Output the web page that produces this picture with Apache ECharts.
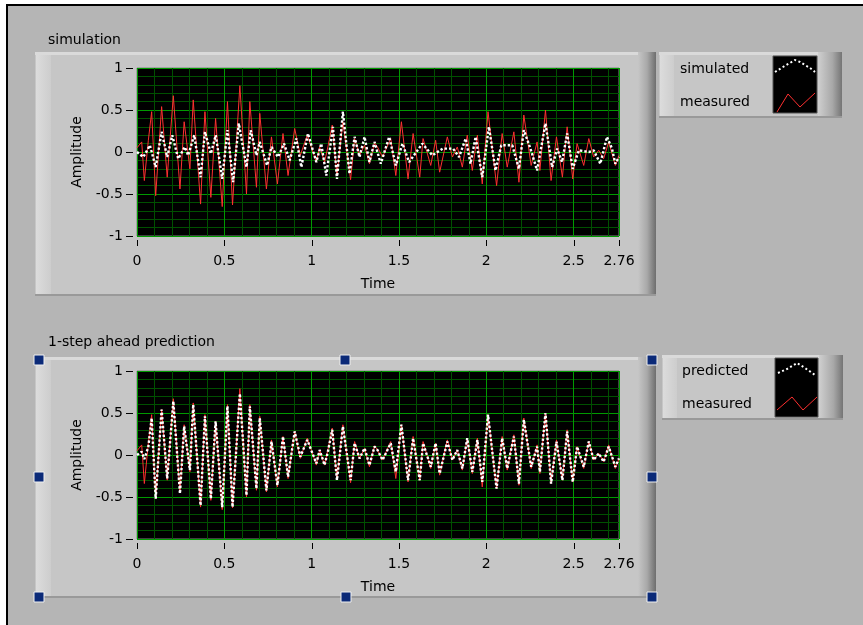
<!DOCTYPE html>
<html><head><meta charset="utf-8">
<script src="https://cdn.jsdelivr.net/npm/echarts@6/dist/echarts.min.js"></script>
<style>html,body{margin:0;padding:0;background:#fff}#c{width:863px;height:625px}</style>
</head><body><div id="c"></div>
<script>
// ---- data (time in s, amplitude) ----
const xMin = 0, xMax = 2.76;
const yMin = -1, yMax = 1;
const xTickLabels = ['0', '0.5', '1', '1.5', '2', '2.5', '2.76'];
const yTickLabels = ['-1', '-0.5', '0', '0.5', '1'];
const panelTitles = ['simulation', '1-step ahead prediction'];
const legendTop = ['simulated', 'measured'];
const legendBottom = ['predicted', 'measured'];

const measuredT = [0, 0.027, 0.042, 0.065, 0.084, 0.107, 0.141, 0.173, 0.208, 0.246,
  0.270, 0.303, 0.322, 0.364, 0.389, 0.423, 0.450, 0.488, 0.518, 0.547,
  0.589, 0.627, 0.646, 0.684, 0.703, 0.741, 0.770, 0.804, 0.836, 0.865,
  0.903, 0.935, 0.975, 1.027, 1.046, 1.074, 1.093, 1.118, 1.145, 1.179,
  1.223, 1.246, 1.274, 1.303, 1.331, 1.360, 1.377, 1.406, 1.453, 1.482,
  1.514, 1.552, 1.581, 1.619, 1.638, 1.682, 1.710, 1.733, 1.777, 1.806,
  1.834, 1.863, 1.891, 1.920, 1.949, 1.977, 2.010, 2.059, 2.091, 2.120,
  2.158, 2.187, 2.215, 2.257, 2.291, 2.307, 2.339, 2.371, 2.402, 2.436,
  2.463, 2.495, 2.520, 2.558, 2.587, 2.615, 2.644, 2.672, 2.701, 2.739, 2.760];
const measuredV = [0.05, 0.12, -0.34, 0.14, 0.48, -0.52, 0.54, -0.30, 0.67, -0.44,
  0.36, -0.20, 0.62, -0.62, 0.48, -0.54, 0.40, -0.65, 0.60, -0.63,
  0.79, -0.50, 0.60, -0.42, 0.46, -0.44, 0.18, -0.38, 0.22, -0.28,
  0.28, -0.04, 0.20, -0.12, 0.06, -0.12, 0.06, 0.32, -0.28, 0.36,
  -0.33, 0.16, -0.04, 0.08, -0.14, 0.11, 0.06, -0.06, 0.16, -0.28,
  0.36, -0.32, 0.22, -0.30, 0.16, -0.16, 0.14, -0.24, 0.18, -0.06,
  0.06, -0.18, 0.20, -0.22, 0.20, -0.38, 0.48, -0.40, 0.22, -0.18,
  0.24, -0.36, 0.44, -0.16, 0.12, -0.22, 0.50, -0.34, 0.18, -0.30,
  0.30, -0.32, 0.10, -0.16, 0.16, -0.06, 0.02, -0.08, 0.12, -0.16, -0.04];
const predictedV = [0.00, 0.04, -0.05, 0.10, 0.44, -0.52, 0.54, -0.28, 0.64, -0.46,
  0.34, -0.18, 0.60, -0.60, 0.46, -0.52, 0.40, -0.62, 0.58, -0.62,
  0.73, -0.48, 0.58, -0.40, 0.44, -0.42, 0.16, -0.36, 0.22, -0.26,
  0.28, -0.02, 0.18, -0.10, 0.06, -0.12, 0.04, 0.30, -0.30, 0.34,
  -0.30, 0.14, -0.04, 0.08, -0.12, 0.10, 0.06, -0.06, 0.14, -0.20,
  0.36, -0.30, 0.20, -0.30, 0.14, -0.14, 0.14, -0.22, 0.16, -0.06,
  0.06, -0.16, 0.20, -0.20, 0.18, -0.32, 0.48, -0.40, 0.20, -0.16,
  0.22, -0.34, 0.42, -0.14, 0.10, -0.20, 0.50, -0.34, 0.16, -0.30,
  0.28, -0.32, 0.10, -0.14, 0.16, -0.06, 0.02, -0.08, 0.10, -0.14, -0.04];
const simulatedT = [0, 0.036, 0.074, 0.107, 0.141, 0.173, 0.202, 0.236, 0.274, 0.293,
  0.328, 0.364, 0.389, 0.423, 0.451, 0.488, 0.518, 0.550, 0.583, 0.627,
  0.651, 0.684, 0.703, 0.745, 0.770, 0.808, 0.842, 0.874, 0.912, 0.941,
  0.979, 1.027, 1.055, 1.084, 1.122, 1.145, 1.179, 1.217, 1.246, 1.274,
  1.303, 1.331, 1.360, 1.396, 1.444, 1.482, 1.520, 1.558, 1.634, 1.691,
  1.750, 1.810, 1.844, 1.882, 1.910, 1.939, 1.977, 2.015, 2.053, 2.086,
  2.149, 2.187, 2.215, 2.253, 2.291, 2.339, 2.377, 2.406, 2.434, 2.463,
  2.495, 2.530, 2.587, 2.615, 2.653, 2.691, 2.720, 2.739, 2.760];
const simulatedV = [0.00, -0.06, 0.08, -0.18, 0.24, -0.06, 0.20, -0.08, 0.06, -0.04,
  0.20, -0.30, 0.24, -0.02, 0.20, -0.32, 0.26, -0.36, 0.34, -0.18,
  0.26, -0.04, 0.12, -0.16, 0.06, -0.06, 0.10, -0.10, 0.16, -0.18,
  0.22, -0.12, 0.10, -0.28, 0.30, -0.32, 0.48, -0.26, 0.18, -0.06,
  0.18, -0.12, 0.12, -0.14, 0.18, -0.16, 0.10, -0.12, 0.10, -0.04,
  0.04, 0.04, -0.06, 0.16, -0.14, 0.18, -0.30, 0.30, -0.22, 0.08,
  0.08, -0.20, 0.26, 0.04, -0.22, 0.34, -0.18, 0.04, -0.12, 0.22,
  -0.20, 0.02, 0.00, 0.02, -0.14, 0.18, 0.04, -0.14, -0.06];

// ---- styling ----
const FONT = 'DejaVu Sans';
const BG = '#b5b5b5';
const FACE = '#c6c6c6';
const RED = '#ff3030';
const pairs = (t, v) => t.map((x, i) => [x, v[i]]);

const chart = echarts.init(document.getElementById('c'), null, {renderer: 'canvas'});

const hiddenLine = {show: true, lineStyle: {color: 'rgba(0,0,0,0)', width: 0}};

function axesX(g) {
  return [
    {type: 'value', gridIndex: g, position: 'bottom', min: xMin, max: xMax, interval: 0.1,
     axisLine: {show: false}, axisTick: {show: false}, axisLabel: {show: false},
     splitLine: {show: true, lineStyle: {color: '#005000', width: 1}}},
    {type: 'value', gridIndex: g, position: 'bottom', min: xMin, max: xMax, interval: 0.5, offset: 4,
     axisLine: hiddenLine,
     axisTick: {show: false},
     axisLabel: {color: '#000', fontFamily: FONT, fontSize: 14, margin: 14,
       showMaxLabel: true, showMinLabel: true, hideOverlap: false,
       formatter: v => xTickLabels.find(s => Math.abs(parseFloat(s) - v) < 1e-6) || ''},
     splitLine: {show: true, lineStyle: {color: '#009a00', width: 1}},
     name: 'Time', nameLocation: 'middle', nameGap: 37,
     nameTextStyle: {color: '#000', fontFamily: FONT, fontSize: 14}}
  ];
}
function axesY(g) {
  return [
    {type: 'value', gridIndex: g, position: 'left', min: yMin, max: yMax, interval: 0.1,
     axisLine: {show: false}, axisTick: {show: false}, axisLabel: {show: false},
     splitLine: {show: true, lineStyle: {color: '#005000', width: 1}}},
    {type: 'value', gridIndex: g, position: 'left', min: yMin, max: yMax, interval: 0.5, offset: 4,
     axisLine: hiddenLine,
     axisTick: {show: false},
     axisLabel: {color: '#000', fontFamily: FONT, fontSize: 14, margin: 10,
       formatter: v => yTickLabels.find(s => Math.abs(parseFloat(s) - v) < 1e-6) || ''},
     splitLine: {show: true, lineStyle: {color: '#009a00', width: 1}},
     name: 'Amplitude', nameLocation: 'middle', nameGap: 48,
     nameTextStyle: {color: '#000', fontFamily: FONT, fontSize: 14}}
  ];
}

function frame(x, y, w, h, z) {
  return [
    {type: 'rect', z: z, shape: {x: x, y: y, width: w, height: h}, style: {fill: FACE}},
    {type: 'rect', z: z, shape: {x: x, y: y, width: w, height: 3}, style: {fill: '#dadada'}},
    {type: 'rect', z: z, shape: {x: x + 1, y: y + 3, width: 15, height: h - 5},
     style: {fill: new echarts.graphic.LinearGradient(0, 0, 1, 0, [
       {offset: 0, color: '#dcdcdc'}, {offset: 1, color: '#cdcdcd'}])}},
    {type: 'rect', z: z, shape: {x: x + w - 18, y: y, width: 18, height: h},
     style: {fill: new echarts.graphic.LinearGradient(0, 0, 1, 0, [
       {offset: 0, color: FACE}, {offset: 0.5, color: '#a9a9a9'}, {offset: 1, color: '#6e6e6e'}])}},
    {type: 'rect', z: z, shape: {x: x, y: y + h - 2, width: w, height: 2}, style: {fill: '#999999'}}
  ];
}
function legendFrame(x, y, w, h, z) {
  return [
    {type: 'rect', z: z, shape: {x: x, y: y, width: w, height: h}, style: {fill: FACE}},
    {type: 'rect', z: z, shape: {x: x, y: y, width: w, height: 3}, style: {fill: '#dadada'}},
    {type: 'rect', z: z, shape: {x: x + 1, y: y + 3, width: 14, height: h - 5},
     style: {fill: new echarts.graphic.LinearGradient(0, 0, 1, 0, [
       {offset: 0, color: '#dcdcdc'}, {offset: 1, color: '#cdcdcd'}])}},
    {type: 'rect', z: z, shape: {x: x + w - 24, y: y, width: 24, height: h},
     style: {fill: new echarts.graphic.LinearGradient(0, 0, 1, 0, [
       {offset: 0, color: '#cfcfcf'}, {offset: 0.6, color: '#a8a8a8'}, {offset: 1, color: '#757575'}])}},
    {type: 'rect', z: z, shape: {x: x, y: y + h - 2, width: w, height: 2}, style: {fill: '#999999'}}
  ];
}
function swatch(x, y, w, h, arc, zig) {
  return [
    {type: 'rect', z: 5, shape: {x: x, y: y, width: w, height: h}, style: {fill: '#000', stroke: '#555', lineWidth: 1}},
    {type: 'polyline', z: 6, shape: {points: arc}, style: {stroke: '#fff', lineWidth: 2, lineDash: [2, 2.5], fill: null}},
    {type: 'polyline', z: 6, shape: {points: zig}, style: {stroke: RED, lineWidth: 1, fill: null}}
  ];
}
function txt(x, y, s) {
  return {type: 'text', z: 6, x: x, y: y,
    style: {text: s, fill: '#000', font: '14px "' + FONT + '"', textVerticalAlign: 'middle', textAlign: 'left'}};
}
function handle(cx, cy) {
  return {type: 'rect', z: 20, shape: {x: cx - 5, y: cy - 5, width: 10, height: 10},
    style: {fill: '#0b2a78', stroke: '#f0f0f0', lineWidth: 1}};
}

const graphics = [].concat(
  [{type: 'rect', z: -20, shape: {x: 7, y: 5, width: 856, height: 620}, style: {fill: BG}},
   {type: 'rect', z: -19, shape: {x: 6, y: 4, width: 857, height: 2}, style: {fill: '#000'}},
   {type: 'rect', z: -19, shape: {x: 6, y: 4, width: 2, height: 621}, style: {fill: '#000'}}],
  frame(35, 52, 621, 244, -10),
  frame(35, 357, 621, 241, -10),
  legendFrame(659, 52, 183, 66, -10),
  legendFrame(662, 355, 181, 65, -10),
  swatch(773, 56, 44, 57,
    [[775, 72], [783, 67], [790, 63], [795, 60], [800, 62], [805, 65], [810, 68], [815, 72]],
    [[777, 112], [788, 94], [800, 107], [815, 93]]),
  swatch(775, 358, 43, 59,
    [[778, 373], [787, 369], [797, 363], [805, 368], [815, 375]],
    [[777, 410], [792, 397], [803, 410], [817, 397]]),
  [txt(48, 40, panelTitles[0]), txt(48, 342, panelTitles[1]),
   txt(680, 69, legendTop[0]), txt(680, 102, legendTop[1]),
   txt(682, 371, legendBottom[0]), txt(682, 404, legendBottom[1])],
  [handle(39, 360), handle(345, 360), handle(652, 360),
   handle(39, 477), handle(652, 477),
   handle(39, 597), handle(346, 597), handle(652, 597)]
);

const option = {
  animation: false,
  backgroundColor: '#ffffff',
  grid: [
    {left: 137, top: 68, width: 482, height: 168, show: true, backgroundColor: '#000', borderColor: '#808080', borderWidth: 1, z: 0},
    {left: 137, top: 371, width: 482, height: 168, show: true, backgroundColor: '#000', borderColor: '#808080', borderWidth: 1, z: 0}
  ],
  xAxis: [].concat(axesX(0), axesX(1)),
  yAxis: [].concat(axesY(0), axesY(1)),
  graphic: {elements: graphics},
  series: [
    {type: 'line', name: 'measured', xAxisIndex: 1, yAxisIndex: 1, data: pairs(measuredT, measuredV),
     showSymbol: false, lineStyle: {color: RED, width: 1}, z: 3},
    {type: 'line', name: 'simulated', xAxisIndex: 1, yAxisIndex: 1, data: pairs(simulatedT, simulatedV),
     showSymbol: false, lineStyle: {color: '#ffffff', width: 2.4, type: [2.4, 2]}, z: 4},
    {type: 'line', name: 'measured', xAxisIndex: 3, yAxisIndex: 3, data: pairs(measuredT, measuredV),
     showSymbol: false, lineStyle: {color: RED, width: 1}, z: 3},
    {type: 'line', name: 'predicted', xAxisIndex: 3, yAxisIndex: 3, data: pairs(measuredT, predictedV),
     showSymbol: false, lineStyle: {color: '#ffffff', width: 2.4, type: [2.4, 2]}, z: 4}
  ]
};
chart.setOption(option);

// Tick marks, positioned through the axes' own scales (convertToPixel)
const tickEls = [];
[[1, 1], [3, 3]].forEach(([xi, yi]) => {
  const yBottom = chart.convertToPixel({yAxisIndex: yi}, yMin);
  const xLeft = chart.convertToPixel({xAxisIndex: xi}, xMin);
  xTickLabels.forEach(s => {
    const px = Math.round(chart.convertToPixel({xAxisIndex: xi}, parseFloat(s))) + 0.5;
    tickEls.push({type: 'line', z: 8, shape: {x1: px, y1: yBottom + 4, x2: px, y2: yBottom + 10},
      style: {stroke: '#000', lineWidth: 1}});
  });
  yTickLabels.forEach(s => {
    const py = Math.round(chart.convertToPixel({yAxisIndex: yi}, parseFloat(s))) + 0.5;
    tickEls.push({type: 'line', z: 8, shape: {x1: xLeft - 11, y1: py, x2: xLeft - 4, y2: py},
      style: {stroke: '#000', lineWidth: 1}});
  });
});
chart.setOption({graphic: {elements: graphics.concat(tickEls)}});
</script></body></html>
